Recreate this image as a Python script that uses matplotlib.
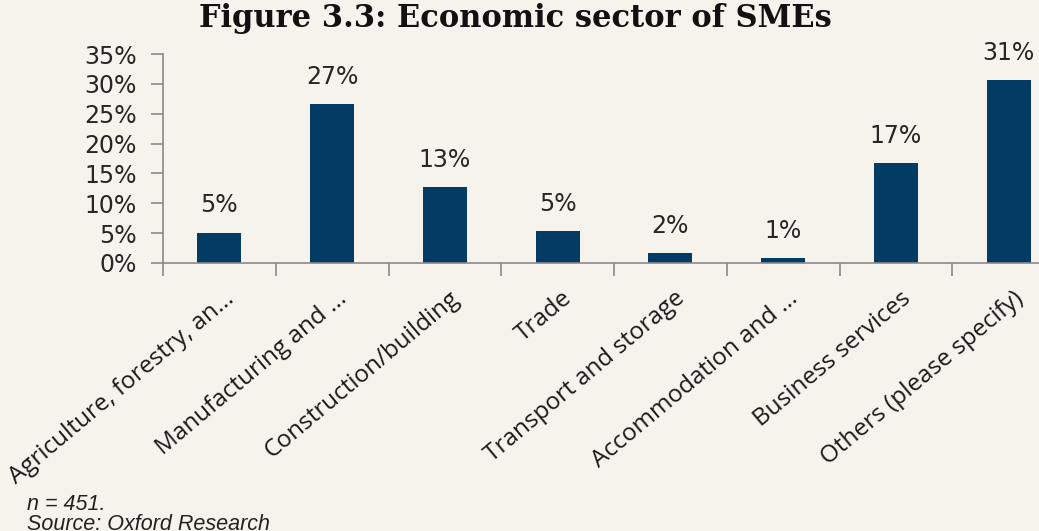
import numpy as np
import matplotlib.pyplot as plt
from matplotlib.transforms import ScaledTranslation

# Share of SMEs by economic sector (%)
sectors = ["Agriculture, forestry, an...", "Manufacturing and ...", "Construction/building",
           "Trade", "Transport and storage", "Accommodation and ...",
           "Business services", "Others (please specify)"]
shares = [5.1, 26.6, 12.7, 5.3, 1.6, 0.8, 16.7, 30.6]
yticks = [0, 5, 10, 15, 20, 25, 30, 35]

bg = "#f6f2ec"
bar_col = "#023b64"
axis_col = "#8a8a8a"

fig = plt.figure(figsize=(10.39, 5.31), dpi=100, facecolor=bg)
W, H = 1039, 531
ax = fig.add_axes([163 / W, (H - 263) / H, 902 / W, 209 / H])
ax.set_facecolor(bg)

x = np.arange(len(sectors))
ax.bar(x, shares, width=0.39, color=bar_col, zorder=2)

for xi, v in zip(x, shares):
    ax.text(xi, v + 2.6, f"{v:.0f}%", ha="center", va="bottom",
            fontsize=17, color="#262626", family="DejaVu Sans")

ax.set_xlim(-0.5, len(sectors) - 0.5)
ax.set_ylim(0, 35)
ax.set_yticks(yticks)
ax.set_yticklabels([f"{t}%" for t in yticks], fontsize=17, color="#262626")

ax.set_xticks(x)
ax.set_xticklabels(sectors, rotation=40, ha="right", rotation_mode="anchor",
                   fontsize=17.5, family="Open Sans", color="#1a1a1a")
ax.set_xticks(np.arange(-0.5, len(sectors)), minor=True)
ax.tick_params(axis="x", which="major", length=0, pad=17)
ax.tick_params(axis="x", which="minor", length=9, color=axis_col, width=1.2)
ax.tick_params(axis="y", length=9, color=axis_col, width=1.2, pad=10)

# nudge the slanted category labels a little to the right
shift = ScaledTranslation(0.04, 0, fig.dpi_scale_trans)
for lab in ax.get_xticklabels():
    lab.set_transform(lab.get_transform() + shift)

for s in ["top", "right"]:
    ax.spines[s].set_visible(False)
for s in ["left", "bottom"]:
    ax.spines[s].set_color(axis_col)
    ax.spines[s].set_linewidth(1.2)

fig.text(515 / W, 1 - 19 / H, "Figure 3.3: Economic sector of SMEs", ha="center", va="center",
         fontsize=22, fontweight="bold", family="DejaVu Serif", color="#111111")

fig.text(27 / W, 1 - 505 / H, "n = 451.", ha="left", va="center", fontsize=15.5,
         style="italic", family="Liberation Sans", color="#222222")
fig.text(27 / W, 1 - 524 / H, "Source: Oxford Research", ha="left", va="center", fontsize=15.5,
         style="italic", family="Liberation Sans", color="#222222")

fig.savefig("out.png", dpi=100, facecolor=bg)
